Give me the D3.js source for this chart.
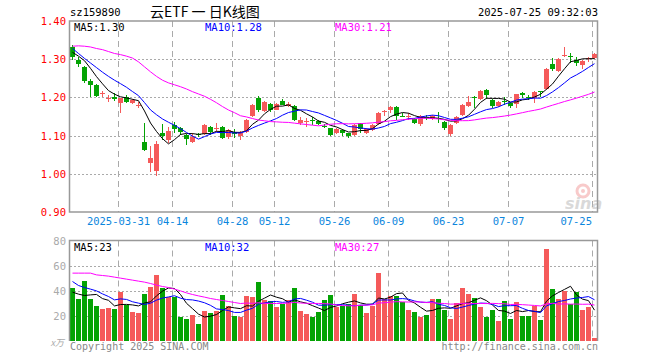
<!DOCTYPE html>
<html><head><meta charset="utf-8">
<script src="https://cdn.jsdelivr.net/npm/d3@7"></script>
<style>body{margin:0;background:#fff;} svg{display:block;}</style>
</head><body><svg id="c" width="660" height="360"></svg>
<script>
const dates = ["2025-03-19","2025-03-20","2025-03-21","2025-03-24","2025-03-25","2025-03-26","2025-03-27","2025-03-28","2025-03-31","2025-04-01","2025-04-02","2025-04-03","2025-04-07","2025-04-08","2025-04-09","2025-04-10","2025-04-11","2025-04-14","2025-04-15","2025-04-16","2025-04-17","2025-04-18","2025-04-21","2025-04-22","2025-04-23","2025-04-24","2025-04-25","2025-04-28","2025-04-29","2025-04-30","2025-05-06","2025-05-07","2025-05-08","2025-05-09","2025-05-12","2025-05-13","2025-05-14","2025-05-15","2025-05-16","2025-05-19","2025-05-20","2025-05-21","2025-05-22","2025-05-23","2025-05-26","2025-05-27","2025-05-28","2025-05-29","2025-05-30","2025-06-03","2025-06-04","2025-06-05","2025-06-06","2025-06-09","2025-06-10","2025-06-11","2025-06-12","2025-06-13","2025-06-16","2025-06-17","2025-06-18","2025-06-19","2025-06-20","2025-06-23","2025-06-24","2025-06-25","2025-06-26","2025-06-27","2025-06-30","2025-07-01","2025-07-02","2025-07-03","2025-07-04","2025-07-07","2025-07-08","2025-07-09","2025-07-10","2025-07-11","2025-07-14","2025-07-15","2025-07-16","2025-07-17","2025-07-18","2025-07-21","2025-07-22","2025-07-23","2025-07-24","2025-07-25"];
const open = [1.331,1.298,1.280,1.243,1.232,1.210,1.197,1.202,1.185,1.200,
1.185,1.179,1.084,1.029,1.008,1.108,1.088,1.127,1.119,1.102,
1.083,1.105,1.104,1.123,1.117,1.123,1.096,1.110,1.098,1.110,
1.152,1.199,1.165,1.183,1.168,1.191,1.178,1.177,1.134,1.136,
1.142,1.139,1.126,1.119,1.107,1.115,1.106,1.102,1.132,1.106,
1.115,1.130,1.163,1.168,1.176,1.152,1.149,1.143,1.131,1.149,
1.143,1.146,1.136,1.104,1.132,1.154,1.178,1.200,1.196,1.219,
1.193,1.178,1.190,1.186,1.182,1.212,1.201,1.198,1.216,1.222,
1.287,1.268,1.310,1.308,1.298,1.285,1.300,1.302];
const high = [1.337,1.307,1.282,1.247,1.235,1.218,1.206,1.211,1.199,1.205,
1.196,1.189,1.132,1.073,1.087,1.130,1.122,1.135,1.123,1.105,
1.106,1.108,1.130,1.126,1.134,1.126,1.118,1.118,1.111,1.144,
1.183,1.203,1.191,1.186,1.186,1.197,1.189,1.180,1.148,1.145,
1.149,1.142,1.131,1.120,1.119,1.117,1.108,1.131,1.134,1.121,
1.131,1.162,1.167,1.178,1.178,1.160,1.160,1.146,1.153,1.154,
1.153,1.161,1.138,1.130,1.152,1.182,1.204,1.204,1.219,1.221,
1.197,1.191,1.202,1.188,1.210,1.215,1.206,1.217,1.217,1.276,
1.304,1.303,1.331,1.317,1.307,1.298,1.307,1.316];
const low = [1.298,1.279,1.238,1.202,1.200,1.200,1.189,1.191,1.160,1.185,
1.183,1.171,1.060,1.005,0.994,1.088,1.080,1.108,1.102,1.075,
1.080,1.097,1.102,1.101,1.110,1.090,1.091,1.095,1.088,1.106,
1.150,1.163,1.162,1.163,1.166,1.179,1.174,1.139,1.128,1.122,
1.128,1.128,1.119,1.100,1.104,1.100,1.094,1.100,1.106,1.103,
1.112,1.128,1.151,1.158,1.141,1.148,1.141,1.131,1.125,1.141,
1.140,1.132,1.114,1.100,1.130,1.152,1.176,1.172,1.194,1.195,
1.173,1.176,1.180,1.171,1.171,1.198,1.194,1.186,1.200,1.220,
1.268,1.266,1.307,1.291,1.283,1.274,1.293,1.301];
const close = [1.305,1.287,1.244,1.232,1.204,1.211,1.198,1.197,1.198,1.189,
1.193,1.180,1.062,1.041,1.078,1.099,1.112,1.117,1.109,1.091,
1.097,1.102,1.127,1.109,1.121,1.094,1.114,1.105,1.108,1.141,
1.180,1.168,1.188,1.166,1.183,1.181,1.184,1.141,1.142,1.137,
1.140,1.131,1.124,1.102,1.116,1.106,1.099,1.128,1.117,1.118,
1.129,1.160,1.165,1.176,1.151,1.150,1.151,1.134,1.151,1.147,
1.151,1.144,1.119,1.128,1.150,1.180,1.189,1.198,1.217,1.205,
1.178,1.189,1.188,1.178,1.208,1.205,1.199,1.215,1.214,1.274,
1.274,1.301,1.312,1.306,1.290,1.296,1.302,1.314];
const volume = [41.9,33.3,47.7,33.3,28.0,25.3,26.4,25.3,38.9,28.5,
23.2,22.4,37.3,43.2,52.5,41.9,35.2,35.2,19.2,17.3,
20.5,13.3,23.7,22.4,24.0,36.5,27.7,20.0,19.2,35.7,
35.2,46.9,32.5,31.7,26.9,29.1,32.5,42.4,23.7,21.6,
19.2,22.9,32.3,36.5,27.2,28.0,29.3,37.3,28.5,22.1,
28.0,54.1,33.3,36.0,36.0,30.7,24.5,22.9,18.9,20.5,
33.3,33.3,24.5,17.3,30.1,42.1,37.3,34.1,26.9,18.9,
24.5,15.7,31.7,17.3,30.9,20.0,20.0,27.5,16.5,73.3,
41.3,33.3,40.0,29.1,38.7,24.5,27.2,1.9];
// moving-average values before enough visible days exist
const ma5Head = [1.318,1.308,1.296,1.276];
const ma10Head = [1.328,1.315,1.302,1.290,1.278,1.266,1.255,1.245,1.236];
const ma30Head = [1.334,1.335,1.334,1.332,1.328,1.325,1.320,1.315,1.312,1.308,1.303,1.293,1.280,1.267,1.255,1.245,1.238,1.233,1.228,1.222,1.215,1.209,1.203,1.195,1.186,1.176,1.167,1.160,1.152];
const volMa5Head = [38.7,37.1,36.0,36.5];
const volMa10Head = [47.2,44.0,42.4,41.1,39.7,37.3,35.2,32.5,33.3];
const volMa30Head = [53.9,53.9,53.9,53.9,52.5,52.0,51.5,50.7,49.9,49.1,48.3,47.5,46.7,45.6,44.3,43.2,42.4,41.1,39.7,38.1,36.8,35.7,34.7,33.6,32.8,32.0,31.2,30.4,29.6];
const priceTicks = [0.90,1.00,1.10,1.20,1.30,1.40];
const volTicks = [20,40,60,80];
const dateTicks = ["2025-03-31","2025-04-14","2025-04-28","2025-05-12","2025-05-26","2025-06-09","2025-06-23","2025-07-07","2025-07-25"];
const dateTickLabels = ["2025-03-31","04-14","04-28","05-12","05-26","06-09","06-23","07-07","07-25"];
const maNames = ["MA5","MA10","MA30"];
const priceMaLegend = ["1.30","1.28","1.21"];
const volMaLegend = ["23","32","27"];
const code = "sz159890";
const title = "云ETF 一 日K线图";
const stamp = "2025-07-25 09:32:03";

const svg = d3.select("#c");
const MONO = "'DejaVu Sans Mono', 'Liberation Mono', monospace";
const RED = "#f55a5a", GREEN = "#04a304";
const maColors = ["#000000","#0000ff","#ff00ff"];
const L = 70, R = 598;
const x = d3.scaleBand().domain(dates).range([L, R]).padding(0);
const bw = x.step() - 1;
const cx = d => x(d) + bw/2;
const y = d3.scaleLinear().domain([0.9, 1.4]).range([212, 21]);
const yv = d3.scaleLinear().domain([0, 80]).range([340.5, 240.5]);

function movingAvg(vals, n, head){
  return vals.map((v,i) => i < n-1 ? head[i] : d3.mean(vals.slice(i-n+1, i+1)));
}
const pMA = [movingAvg(close,5,ma5Head), movingAvg(close,10,ma10Head), movingAvg(close,30,ma30Head)];
const vMA = [movingAvg(volume,5,volMa5Head), movingAvg(volume,10,volMa10Head), movingAvg(volume,30,volMa30Head)];

// header
svg.append("text").attr("x",70).attr("y",16).attr("font-family",MONO).attr("font-size",10.5).attr("fill","#000").text(code);
svg.append("text").attr("x",150).attr("y",17).attr("font-family","'Noto Sans CJK SC', sans-serif").attr("font-size",14).attr("fill","#000").text(title);
svg.append("text").attr("x",598).attr("y",16).attr("text-anchor","end").attr("font-family",MONO).attr("font-size",10.5).attr("fill","#000").text(stamp);

// grids
const grid = svg.append("g");
priceTicks.filter(t => t > 0.9 && t < 1.4).forEach(t => {
  grid.append("line").attr("x1",L).attr("x2",R-1).attr("y1",Math.round(y(t))+0.5).attr("y2",Math.round(y(t))+0.5)
    .attr("stroke","#aaa").attr("stroke-dasharray","2,2");
});
volTicks.filter(t => t < 80).forEach(t => {
  grid.append("line").attr("x1",L).attr("x2",R-1).attr("y1",Math.round(yv(t))+0.5).attr("y2",Math.round(yv(t))+0.5)
    .attr("stroke","#aaa").attr("stroke-dasharray","2,2");
});
dateTicks.forEach(d => {
  const gx = x(d) + 0.5;
  grid.append("line").attr("x1",gx).attr("x2",gx).attr("y1",21).attr("y2",212).attr("stroke","#aaa").attr("stroke-dasharray","6,4");
  grid.append("line").attr("x1",gx).attr("x2",gx).attr("y1",240.5).attr("y2",340.5).attr("stroke","#aaa").attr("stroke-dasharray","6,4");
});

// watermark
const wm = svg.append("g").attr("opacity",0.55);
wm.append("circle").attr("cx",583).attr("cy",191).attr("r",6).attr("fill","none").attr("stroke","#f3a0a0").attr("stroke-width",3);
wm.append("circle").attr("cx",583).attr("cy",191).attr("r",2).attr("fill","#f3a0a0");
wm.append("text").attr("x",565).attr("y",209).attr("font-family","'DejaVu Sans', sans-serif").attr("font-weight","bold").attr("font-style","italic").attr("font-size",16).attr("fill","#bbb").text("sina");

// candles
const cg = svg.append("g").attr("shape-rendering","crispEdges");
dates.forEach((d,i) => {
  const up = close[i] >= open[i];
  const col = up ? RED : GREEN;
  const xc = Math.round(x(d)) + 2.5;
  cg.append("line").attr("x1",xc).attr("x2",xc).attr("y1",y(high[i])).attr("y2",y(low[i])).attr("stroke",col);
  const yt = Math.round(y(Math.max(open[i],close[i])));
  const yb = Math.round(y(Math.min(open[i],close[i])));
  cg.append("rect").attr("x",Math.round(x(d))).attr("y",yt).attr("width",bw).attr("height",Math.max(1,yb-yt)).attr("fill",col);
});

// volume bars
const vg = svg.append("g").attr("shape-rendering","crispEdges");
dates.forEach((d,i) => {
  const up = close[i] >= open[i];
  vg.append("rect").attr("x",Math.round(x(d))).attr("y",yv(volume[i])).attr("width",bw)
    .attr("height",yv(0)-yv(volume[i])).attr("fill", up ? RED : GREEN);
});

// MA lines
const lineP = d3.line().x((v,i) => cx(dates[i])).y(v => y(v));
const lineV = d3.line().x((v,i) => cx(dates[i])).y(v => yv(v));
pMA.forEach((s,k) => svg.append("path").attr("d",lineP(s)).attr("fill","none").attr("stroke",maColors[k]).attr("stroke-width",1));
vMA.forEach((s,k) => svg.append("path").attr("d",lineV(s)).attr("fill","none").attr("stroke",maColors[k]).attr("stroke-width",1));

// borders
svg.append("rect").attr("x",L-0.5).attr("y",21).attr("width",R-L).attr("height",191).attr("fill","none").attr("stroke","#999").attr("stroke-width",1.5);
svg.append("path").attr("d",`M${L-0.5},341 V240.5 H${R-0.5} V341`).attr("fill","none").attr("stroke","#999").attr("stroke-width",1.5);

// axis labels
priceTicks.forEach(t => {
  svg.append("text").attr("x",66).attr("y",y(t)+4).attr("text-anchor","end").attr("font-family",MONO).attr("font-size",10.5).attr("fill","#f00").text(t.toFixed(2));
});
volTicks.forEach(t => {
  svg.append("text").attr("x",66).attr("y",yv(t)+4).attr("text-anchor","end").attr("font-family",MONO).attr("font-size",10.5).attr("fill","#aaa").text(t);
});
svg.append("text").attr("x",64).attr("y",346).attr("text-anchor","end").attr("font-family","'Noto Sans CJK SC', sans-serif").attr("font-size",9).attr("font-style","italic").attr("fill","#aaa").text("x万");

dateTicks.forEach((d,i) => {
  const t = svg.append("text").attr("x",x(d)+0.5).attr("y",225).attr("text-anchor","middle").attr("font-family",MONO).attr("font-size",10.5).attr("fill","#0c86dd").text(dateTickLabels[i]);
  const w = t.node().getComputedTextLength();
  if (x(d) + w/2 > R - 4) t.attr("text-anchor","end").attr("x", R - 6);
});

// legends
const legX = [74, 205, 335];
maNames.forEach((n,k) => {
  svg.append("text").attr("x",legX[k]).attr("y",31).attr("font-family",MONO).attr("font-size",10.5).attr("fill",maColors[k]).text(n + ":" + priceMaLegend[k]);
  svg.append("text").attr("x",legX[k]).attr("y",251).attr("font-family",MONO).attr("font-size",10.5).attr("fill",maColors[k]).text(n + ":" + volMaLegend[k]);
});

// footer
svg.append("text").attr("x",70).attr("y",350).attr("font-family",MONO).attr("font-size",10).attr("fill","#888").text("Copyright 2025 SINA.COM");
svg.append("text").attr("x",598).attr("y",350).attr("text-anchor","end").attr("font-family",MONO).attr("font-size",10).attr("fill","#888").text("http://finance.sina.com.cn");
</script></body></html>
